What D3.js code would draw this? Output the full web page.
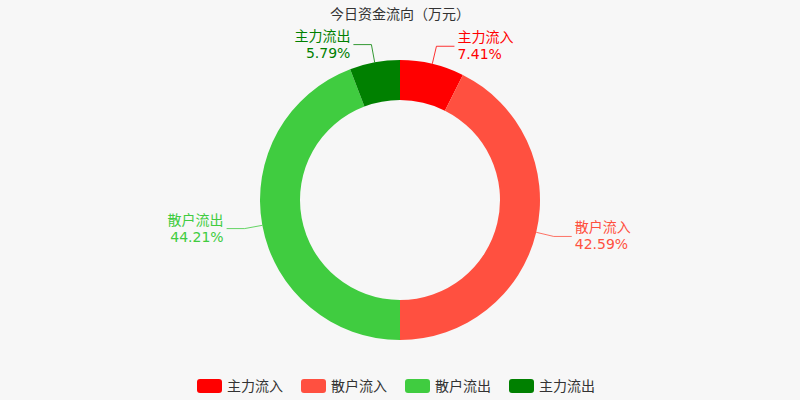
<!DOCTYPE html>
<html><head><meta charset="utf-8">
<script src="https://cdn.jsdelivr.net/npm/d3@7"></script>
<style>body{margin:0;background:#f7f7f7}text{font-family:"DejaVu Sans","Noto Sans CJK SC",sans-serif}</style>
</head><body><svg width="800" height="400"></svg>
<script>
var names = ["主力流入", "散户流入", "散户流出", "主力流出"];
var values = [7.41, 42.59, 44.21, 5.79];
var colors = ["#ff0000", "#ff5040", "#40cc40", "#008000"];

var svg = d3.select("svg");
svg.append("text").attr("x", 400).attr("y", 19).attr("text-anchor", "middle")
    .attr("font-size", 14).attr("fill", "#333").text("今日资金流向（万元）");

var g = svg.append("g").attr("transform", "translate(400,200)");
var pie = d3.pie().sort(null).value(function(d) { return d; });
var arcs = pie(values);
var arc = d3.arc().innerRadius(100).outerRadius(140);

g.selectAll("path").data(arcs).enter().append("path")
    .attr("d", arc).attr("fill", function(d, i) { return colors[i]; });

arcs.forEach(function(d, i) {
  var a = (d.startAngle + d.endAngle) / 2;
  var p1 = [140 * Math.sin(a), -140 * Math.cos(a)];
  var p2 = [158 * Math.sin(a), -158 * Math.cos(a)];
  var right = Math.sin(a) >= 0;
  var p3 = [p2[0] + (right ? 18 : -18), p2[1]];
  g.append("polyline").attr("points", [p1, p2, p3].join(" "))
      .attr("fill", "none").attr("stroke", colors[i]).attr("stroke-width", 0.8);
  var tx = p3[0] + (right ? 3 : -3);
  var t = g.append("text").attr("x", tx).attr("y", p3[1] - 4)
      .attr("text-anchor", right ? "start" : "end").attr("fill", colors[i]).attr("font-size", 14);
  t.append("tspan").text(names[i]);
  t.append("tspan").attr("x", tx).attr("dy", 17).text(values[i].toFixed(2) + "%");
});

var legend = svg.append("g").selectAll("g").data(names).enter().append("g")
    .attr("transform", function(d, i) { return "translate(" + (197 + i * 104) + ",379)"; });
legend.append("rect").attr("width", 25).attr("height", 14).attr("rx", 3)
    .attr("fill", function(d, i) { return colors[i]; });
legend.append("text").attr("x", 30).attr("y", 12).attr("font-size", 14).attr("fill", "#333")
    .text(function(d) { return d; });
</script></body></html>
